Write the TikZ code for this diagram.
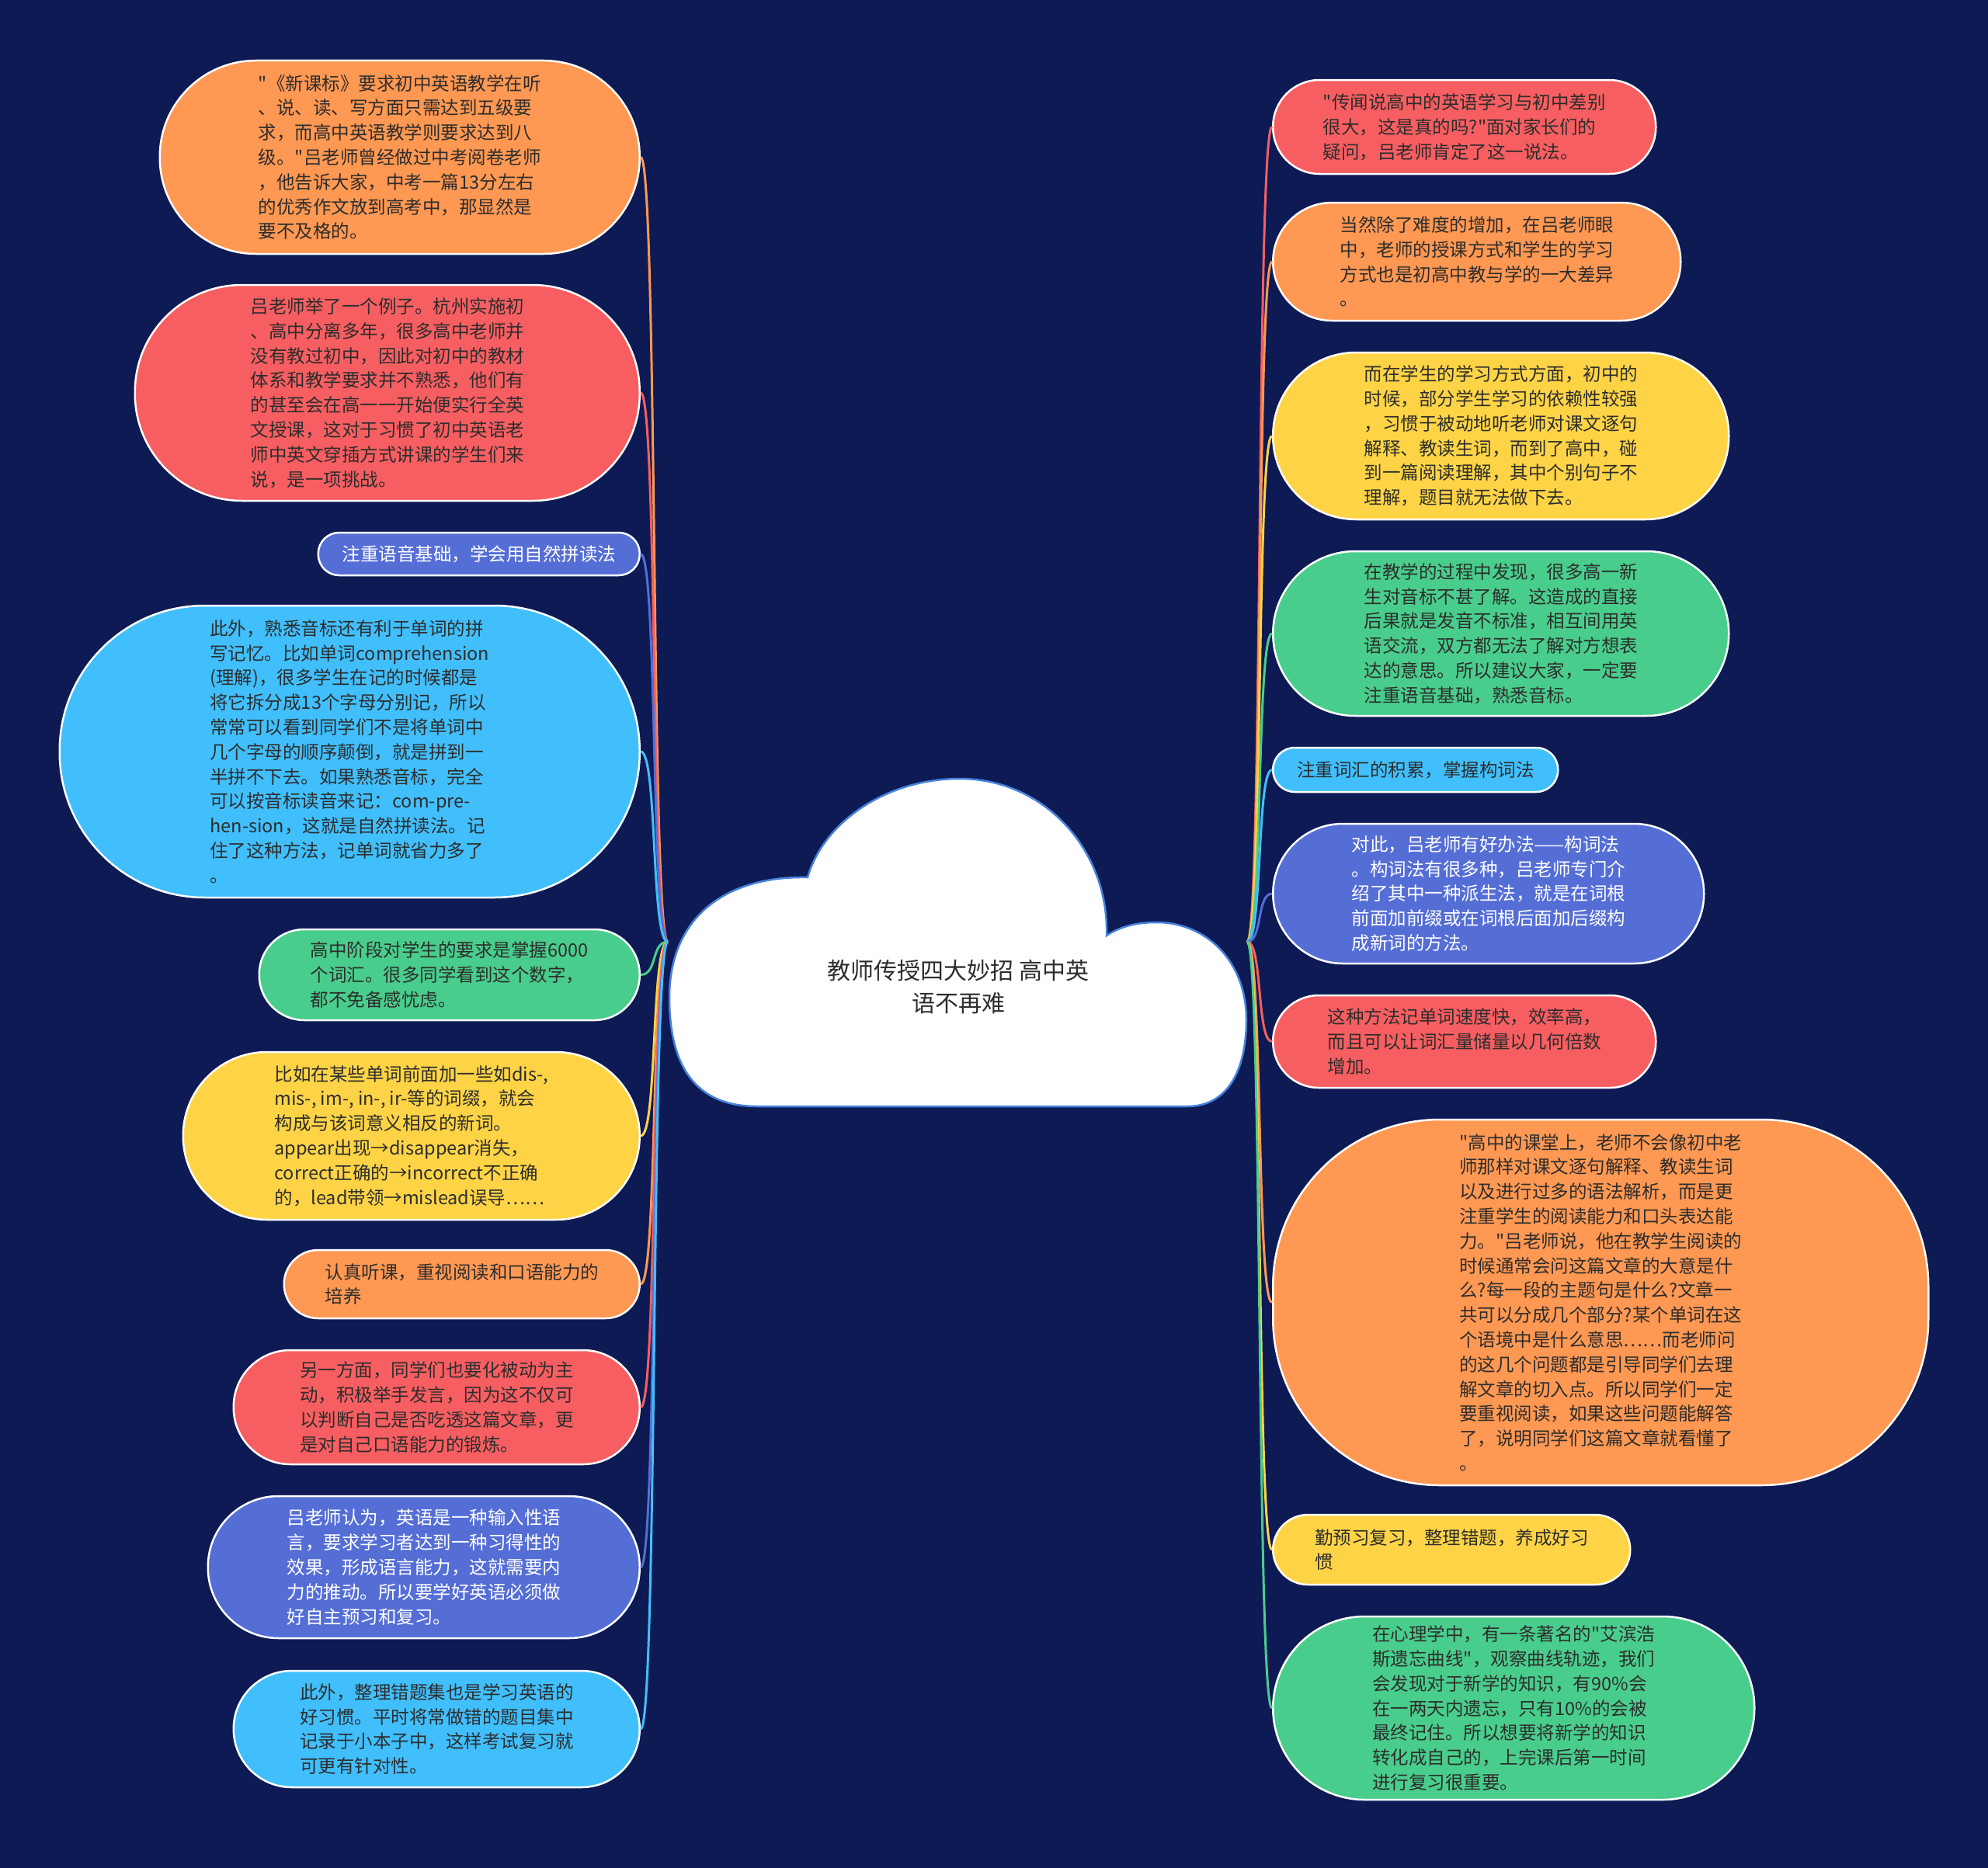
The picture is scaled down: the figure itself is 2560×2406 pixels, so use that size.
\documentclass[tikz,border=0pt]{standalone}
\usepackage{fontspec}
\newfontfamily\cjkfont{Noto Sans CJK SC}
\definecolor{bgC}{RGB}{13,26,84}
\definecolor{orangeC}{RGB}{255,152,82}
\definecolor{redC}{RGB}{247,94,97}
\definecolor{blueC}{RGB}{85,110,214}
\definecolor{cyanC}{RGB}{65,191,252}
\definecolor{greenC}{RGB}{73,205,140}
\definecolor{yellowC}{RGB}{254,212,70}
\definecolor{txtC}{RGB}{45,45,45}
\definecolor{cloudLine}{RGB}{70,130,220}
\tikzset{
  box/.style={draw=white, line width=2.5pt, align=left, text=txtC, inner sep=0pt,
    font=\cjkfont\fontsize{23.5}{31.8}\selectfont},
  lbox/.style={box, anchor=east},
  rbox/.style={box, anchor=west},
  conn/.style={line width=3pt},
}
\begin{document}
\begin{tikzpicture}[x=1pt,y=-1pt]
\useasboundingbox (0,0) rectangle (2560,2406);
\fill[bgC] (0,0) rectangle (2560,2406);
\coordinate (rl) at (860,1213);
\coordinate (rr) at (1606,1213);

% left nodes
\node[lbox, fill=orangeC, minimum width=618pt, minimum height=249pt, rounded corners=124pt] (L1) at (825,202.5) {"《新课标》要求初中英语教学在听\\、说、读、写方面只需达到五级要\\求，而高中英语教学则要求达到八\\级。"吕老师曾经做过中考阅卷老师\\，他告诉大家，中考一篇13分左右\\的优秀作文放到高考中，那显然是\\要不及格的。};
\node[lbox, fill=redC, minimum width=650pt, minimum height=278pt, rounded corners=138pt] (L2) at (825,506) {吕老师举了一个例子。杭州实施初\\、高中分离多年，很多高中老师并\\没有教过初中，因此对初中的教材\\体系和教学要求并不熟悉，他们有\\的甚至会在高一一开始便实行全英\\文授课，这对于习惯了初中英语老\\师中英文穿插方式讲课的学生们来\\说，是一项挑战。};
\node[lbox, fill=blueC, text=white, minimum width=414pt, minimum height=55pt, rounded corners=27pt] (L3) at (825,713.5) {注重语音基础，学会用自然拼读法};
\node[lbox, fill=cyanC, minimum width=747pt, minimum height=376pt, rounded corners=187pt] (L4) at (825,968) {此外，熟悉音标还有利于单词的拼\\写记忆。比如单词comprehension\\(理解)，很多学生在记的时候都是\\将它拆分成13个字母分别记，所以\\常常可以看到同学们不是将单词中\\几个字母的顺序颠倒，就是拼到一\\半拼不下去。如果熟悉音标，完全\\可以按音标读音来记：com-pre-\\hen-sion，这就是自然拼读法。记\\住了这种方法，记单词就省力多了\\。};
\node[lbox, fill=greenC, minimum width=490pt, minimum height=117pt, rounded corners=58pt] (L5) at (825,1255.5) {高中阶段对学生的要求是掌握6000\\个词汇。很多同学看到这个数字，\\都不免备感忧虑。};
\node[lbox, fill=yellowC, minimum width=588pt, minimum height=216pt, rounded corners=108pt] (L6) at (825,1463) {比如在某些单词前面加一些如dis-,\\mis-, im-, in-, ir-等的词缀，就会\\构成与该词意义相反的新词。\\appear出现→disappear消失，\\correct正确的→incorrect不正确\\的，lead带领→mislead误导……};
\node[lbox, fill=orangeC, minimum width=458pt, minimum height=88pt, rounded corners=44pt] (L7) at (825,1654) {认真听课，重视阅读和口语能力的\\培养};
\node[lbox, fill=redC, minimum width=523pt, minimum height=147pt, rounded corners=73pt] (L8) at (825,1812.5) {另一方面，同学们也要化被动为主\\动，积极举手发言，因为这不仅可\\以判断自己是否吃透这篇文章，更\\是对自己口语能力的锻炼。};
\node[lbox, fill=blueC, text=white, minimum width=556pt, minimum height=183pt, rounded corners=91pt] (L9) at (825,2018.5) {吕老师认为，英语是一种输入性语\\言，要求学习者达到一种习得性的\\效果，形成语言能力，这就需要内\\力的推动。所以要学好英语必须做\\好自主预习和复习。};
\node[lbox, fill=cyanC, minimum width=523pt, minimum height=150pt, rounded corners=75pt] (L10) at (825,2227) {此外，整理错题集也是学习英语的\\好习惯。平时将常做错的题目集中\\记录于小本子中，这样考试复习就\\可更有针对性。};

% right nodes
\node[rbox, fill=redC, minimum width=493pt, minimum height=121pt, rounded corners=60pt] (R1) at (1638,163.5) {"传闻说高中的英语学习与初中差别\\很大，这是真的吗?"面对家长们的\\疑问，吕老师肯定了这一说法。};
\node[rbox, fill=orangeC, minimum width=525pt, minimum height=152pt, rounded corners=76pt] (R2) at (1638,337) {当然除了难度的增加，在吕老师眼\\中，老师的授课方式和学生的学习\\方式也是初高中教与学的一大差异\\。};
\node[rbox, fill=yellowC, minimum width=587pt, minimum height=215pt, rounded corners=107pt] (R3) at (1638,561.5) {而在学生的学习方式方面，初中的\\时候，部分学生学习的依赖性较强\\，习惯于被动地听老师对课文逐句\\解释、教读生词，而到了高中，碰\\到一篇阅读理解，其中个别句子不\\理解，题目就无法做下去。};
\node[rbox, fill=greenC, minimum width=587pt, minimum height=212pt, rounded corners=106pt] (R4) at (1638,816) {在教学的过程中发现，很多高一新\\生对音标不甚了解。这造成的直接\\后果就是发音不标准，相互间用英\\语交流，双方都无法了解对方想表\\达的意思。所以建议大家，一定要\\注重语音基础，熟悉音标。};
\node[rbox, fill=cyanC, minimum width=367pt, minimum height=57pt, rounded corners=28pt] (R5) at (1638,991.5) {注重词汇的积累，掌握构词法};
\node[rbox, fill=blueC, text=white, minimum width=555pt, minimum height=180pt, rounded corners=90pt] (R6) at (1638,1151) {对此，吕老师有好办法——构词法\\。构词法有很多种，吕老师专门介\\绍了其中一种派生法，就是在词根\\前面加前缀或在词根后面加后缀构\\成新词的方法。};
\node[rbox, fill=redC, minimum width=493pt, minimum height=119pt, rounded corners=59pt] (R7) at (1638,1341.5) {这种方法记单词速度快，效率高，\\而且可以让词汇量储量以几何倍数\\增加。};
\node[rbox, fill=orangeC, minimum width=844pt, minimum height=471pt, rounded corners=215pt] (R8) at (1638,1677.5) {"高中的课堂上，老师不会像初中老\\师那样对课文逐句解释、教读生词\\以及进行过多的语法解析，而是更\\注重学生的阅读能力和口头表达能\\力。"吕老师说，他在教学生阅读的\\时候通常会问这篇文章的大意是什\\么?每一段的主题句是什么?文章一\\共可以分成几个部分?某个单词在这\\个语境中是什么意思……而老师问\\的这几个问题都是引导同学们去理\\解文章的切入点。所以同学们一定\\要重视阅读，如果这些问题能解答\\了，说明同学们这篇文章就看懂了\\。};
\node[rbox, fill=yellowC, minimum width=460pt, minimum height=90pt, rounded corners=45pt] (R9) at (1638,1996) {勤预习复习，整理错题，养成好习\\惯};
\node[rbox, fill=greenC, minimum width=620pt, minimum height=236pt, rounded corners=118pt] (R10) at (1638,2200) {在心理学中，有一条著名的"艾滨浩\\斯遗忘曲线"，观察曲线轨迹，我们\\会发现对于新学的知识，有90\%会\\在一两天内遗忘，只有10\%的会被\\最终记住。所以想要将新学的知识\\转化成自己的，上完课后第一时间\\进行复习很重要。};

% connectors
\foreach \n/\c in {L1/orangeC,L2/redC,L3/blueC,L4/cyanC,L5/greenC,L6/yellowC,L7/orangeC,L8/redC,L9/blueC,L10/cyanC}
  \draw[conn, \c] (rl) .. controls +(-22,0) and +(22,0) .. (\n.east);
\foreach \n/\c in {R1/redC,R2/orangeC,R3/yellowC,R4/greenC,R5/cyanC,R6/blueC,R7/redC,R8/orangeC,R9/yellowC,R10/greenC}
  \draw[conn, \c] (rr) .. controls +(20,0) and +(-20,0) .. (\n.west);

% central cloud
\draw[fill=white, draw=cloudLine, line width=2.5pt]
  (975,1425) -- (1529,1425)
  .. controls (1580,1425) and (1605,1380) .. (1605,1313)
  .. controls (1605,1240) and (1555,1188) .. (1489,1188)
  .. controls (1460,1188) and (1440,1195) .. (1425,1205)
  .. controls (1428,1095) and (1345,1003) .. (1236,1003)
  .. controls (1140,1003) and (1060,1060) .. (1040,1130)
  .. controls (930,1128) and (862,1185) .. (862,1285)
  .. controls (862,1385) and (905,1425) .. (975,1425) -- cycle;
\node[align=center, text=txtC, font=\cjkfont\fontsize{30}{42}\selectfont] (root) at (1234,1271) {教师传授四大妙招 高中英\\语不再难};
\end{tikzpicture}
\end{document}
